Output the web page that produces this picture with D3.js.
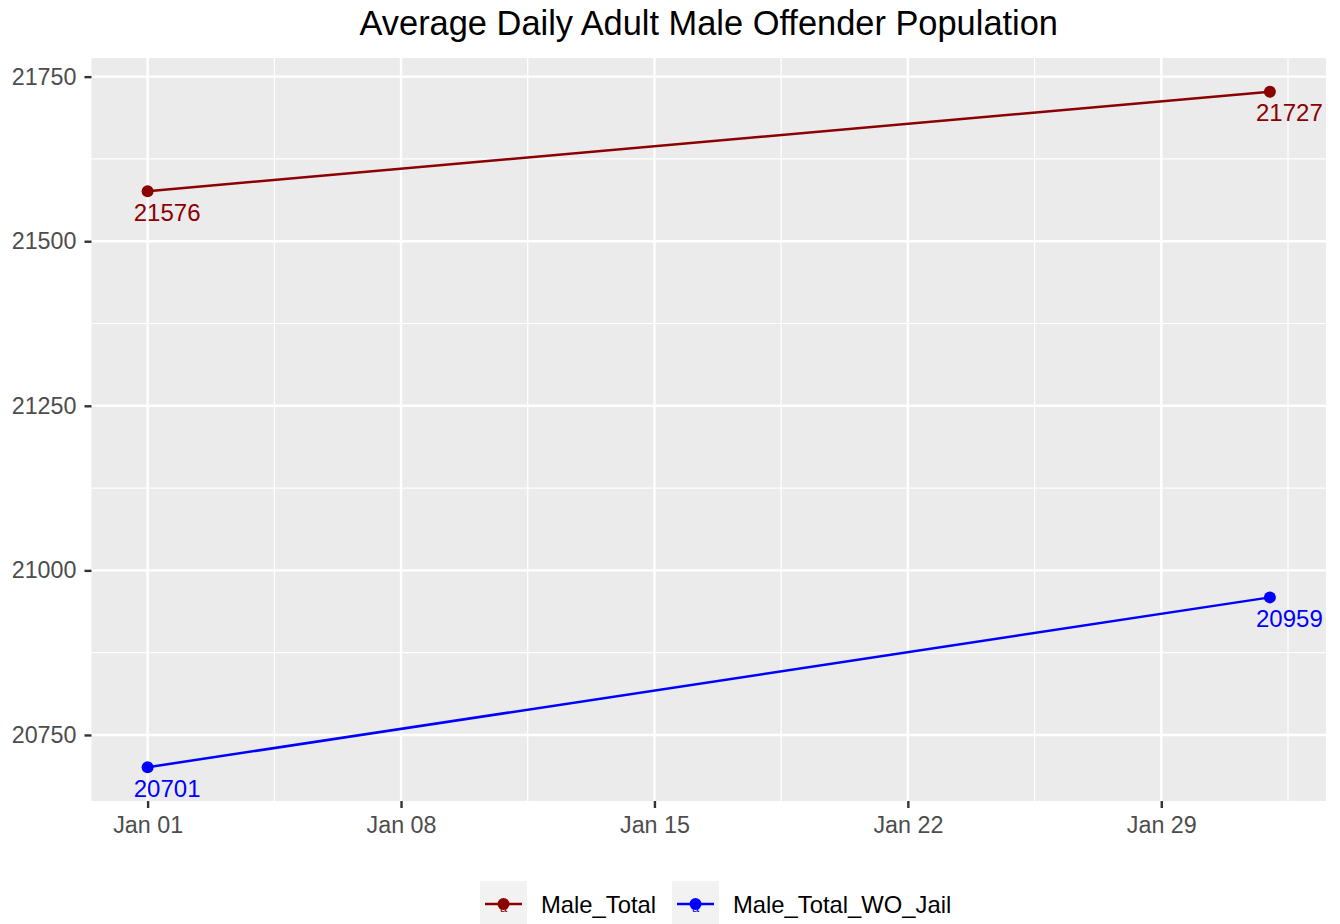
<!DOCTYPE html>
<html>
<head>
<meta charset="utf-8">
<script src="https://cdn.jsdelivr.net/npm/d3@7"></script>
<style>
  body { margin: 0; background: #fff; }
  svg text { font-family: "Liberation Sans", Arial, sans-serif; }
</style>
</head>
<body>
<div id="chart"></div>
<script>

// data
var dates = ["2019-01-01", "2019-02-01"];
var maleTotal = [21576, 21727];
var maleTotalWOJail = [20701, 20959];
var seriesNames = ["Male_Total", "Male_Total_WO_Jail"];
var seriesColors = ["#8B0000", "#0000FF"];
var yTicks = [20750, 21000, 21250, 21500, 21750];
var yMinor = [20875, 21125, 21375, 21625];
var xTickDates = ["2019-01-01", "2019-01-08", "2019-01-15", "2019-01-22", "2019-01-29"];
var xTickLabels = ["Jan 01", "Jan 08", "Jan 15", "Jan 22", "Jan 29"];

var width = 1340, height = 924;
var margin = { top: 58, right: 14, bottom: 123, left: 91.5 };
var parse = d3.utcParse("%Y-%m-%d");
var day = 864e5;

var svg = d3.select("#chart").append("svg")
    .attr("width", width)
    .attr("height", height);

var series = [maleTotal, maleTotalWOJail].map(function (vals, i) {
    return {
        name: seriesNames[i],
        color: seriesColors[i],
        values: vals.map(function (v, j) { return { date: parse(dates[j]), value: v }; })
    };
});

// ggplot style 5% expansion
var d0 = parse(dates[0]), d1 = parse(dates[dates.length - 1]);
var padX = (d1 - d0) * 0.05;
var allVals = maleTotal.concat(maleTotalWOJail);
var yMin = d3.min(allVals), yMax = d3.max(allVals);
var padY = (yMax - yMin) * 0.05;

var x = d3.scaleUtc()
    .domain([new Date(+d0 - padX), new Date(+d1 + padX)])
    .range([margin.left, width - margin.right]);

var y = d3.scaleLinear()
    .domain([yMin - padY, yMax + padY])
    .range([height - margin.bottom, margin.top]);

// panel
svg.append("rect")
    .attr("x", margin.left)
    .attr("y", margin.top)
    .attr("width", width - margin.right - margin.left)
    .attr("height", height - margin.bottom - margin.top)
    .attr("fill", "#EBEBEB");

var grid = svg.append("g");

// minor grid: halfway between majors
var xMajor = xTickDates.map(parse);
var xMinor = [];
for (var k = -1; k < xMajor.length; k++) {
    var a = k < 0 ? +xMajor[0] - 7 * day : +xMajor[k];
    xMinor.push(new Date(a + 3.5 * day));
}
xMinor = xMinor.filter(function (d) { return d >= x.domain()[0] && d <= x.domain()[1]; });

grid.selectAll(".ymin").data(yMinor).enter().append("line")
    .attr("x1", margin.left).attr("x2", width - margin.right)
    .attr("y1", function (d) { return y(d); }).attr("y2", function (d) { return y(d); })
    .attr("stroke", "#fff").attr("stroke-width", 1.2);

grid.selectAll(".xmin").data(xMinor).enter().append("line")
    .attr("y1", margin.top).attr("y2", height - margin.bottom)
    .attr("x1", function (d) { return x(d); }).attr("x2", function (d) { return x(d); })
    .attr("stroke", "#fff").attr("stroke-width", 1.2);

grid.selectAll(".ymaj").data(yTicks).enter().append("line")
    .attr("x1", margin.left).attr("x2", width - margin.right)
    .attr("y1", function (d) { return y(d); }).attr("y2", function (d) { return y(d); })
    .attr("stroke", "#fff").attr("stroke-width", 2.4);

grid.selectAll(".xmaj").data(xMajor).enter().append("line")
    .attr("y1", margin.top).attr("y2", height - margin.bottom)
    .attr("x1", function (d) { return x(d); }).attr("x2", function (d) { return x(d); })
    .attr("stroke", "#fff").attr("stroke-width", 2.4);

// axes
var yAxis = svg.append("g")
    .attr("transform", "translate(" + margin.left + ",0)")
    .call(d3.axisLeft(y).tickValues(yTicks).tickSize(7).tickPadding(8).tickFormat(d3.format("d")));

var xAxis = svg.append("g")
    .attr("transform", "translate(0," + (height - margin.bottom) + ")")
    .call(d3.axisBottom(x).tickValues(xMajor).tickSize(7).tickPadding(4)
        .tickFormat(function (d, i) { return xTickLabels[i]; }));

[xAxis, yAxis].forEach(function (ax) {
    ax.select(".domain").remove();
    ax.selectAll(".tick line").attr("stroke", "#333333").attr("stroke-width", 2.4);
    ax.selectAll(".tick text").attr("fill", "#4D4D4D").style("font-size", "23.3px");
});
xAxis.selectAll(".tick text").attr("dy", "0.92em");

// lines, points, labels
var line = d3.line()
    .x(function (d) { return x(d.date); })
    .y(function (d) { return y(d.value); });

var g = svg.selectAll(".series").data(series).enter().append("g");

g.append("path")
    .attr("d", function (d) { return line(d.values); })
    .attr("fill", "none")
    .attr("stroke", function (d) { return d.color; })
    .attr("stroke-width", 2.5);

g.selectAll("circle").data(function (d) { return d.values.map(function (v) { return { v: v, color: d.color }; }); })
    .enter().append("circle")
    .attr("cx", function (d) { return x(d.v.date); })
    .attr("cy", function (d) { return y(d.v.value); })
    .attr("r", 6)
    .attr("fill", function (d) { return d.color; });

g.selectAll(".lab").data(function (d) { return d.values.map(function (v) { return { v: v, color: d.color }; }); })
    .enter().append("text")
    .attr("x", function (d) { return x(d.v.date) + 19.5; })
    .attr("y", function (d) { return y(d.v.value) + 29.5; })
    .attr("text-anchor", "middle")
    .attr("fill", function (d) { return d.color; })
    .style("font-size", "24px")
    .text(function (d) { return d.v.value; });

// title
svg.append("text")
    .attr("x", (margin.left + width - margin.right) / 2)
    .attr("y", 35)
    .attr("text-anchor", "middle")
    .attr("fill", "#000")
    .style("font-size", "34.4px")
    .text("Average Daily Adult Male Offender Population");

// legend
var legendX = [480, 672];
var lg = svg.selectAll(".legend").data(series).enter().append("g")
    .attr("transform", function (d, i) { return "translate(" + legendX[i] + ",881)"; });

lg.append("rect")
    .attr("width", 47).attr("height", 46)
    .attr("fill", "#F2F2F2");

lg.append("line")
    .attr("x1", 5).attr("x2", 42).attr("y1", 23).attr("y2", 23)
    .attr("stroke", function (d) { return d.color; })
    .attr("stroke-width", 2.5);

lg.append("text")
    .attr("x", 23.5).attr("y", 31)
    .attr("text-anchor", "middle")
    .attr("fill", function (d) { return d.color; })
    .style("font-size", "13px")
    .text("a");

lg.append("circle")
    .attr("cx", 23.5).attr("cy", 23).attr("r", 6)
    .attr("fill", function (d) { return d.color; });

lg.append("text")
    .attr("x", 61).attr("y", 32)
    .attr("fill", "#000")
    .style("font-size", "23.8px")
    .text(function (d) { return d.name; });

</script>
</body>
</html>
